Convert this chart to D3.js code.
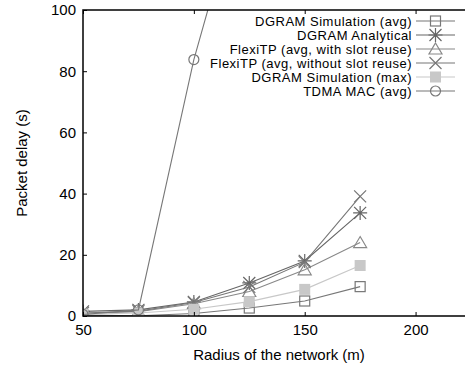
<!DOCTYPE html>
<html>
<head>
<meta charset="utf-8">
<script src="https://cdn.jsdelivr.net/npm/d3@7"></script>
<style>
  body { margin: 0; background: #fff; }
  text { font-family: "Liberation Sans", Arial, sans-serif; fill: #000; }
</style>
</head>
<body>
<div id="chart"></div>
<script>
(function () {
    var width = 465,
        height = 369;

    // values
    var radius = [50, 75, 100, 125, 150, 175];
    var dgramSimAvg = [0.3, 0.1, 0.8, 2.6, 4.9, 9.6];
    var dgramAnalytical = [1.5, 2.0, 4.6, 10.8, 18.0, 33.7];
    var flexiReuse = [0.8, 1.4, 4.0, 8.0, 15.1, 24.0];
    var flexiNoReuse = [1.0, 1.6, 4.4, 9.5, 17.6, 39.1];
    var dgramSimMax = [0.6, 1.0, 2.2, 4.7, 8.7, 16.5];
    var tdmaRadius = [50, 75, 100, 125];
    var tdmaAvg = [0.5, 2.0, 83.8, 148];

    var xTicks = [50, 100, 150, 200];
    var yTicks = [0, 20, 40, 60, 80, 100];

    var series = [
        {name: "DGRAM Simulation (avg)", xs: radius, ys: dgramSimAvg, marker: "square", color: "#777"},
        {name: "DGRAM Analytical", xs: radius, ys: dgramAnalytical, marker: "star", color: "#666"},
        {name: "FlexiTP (avg, with slot reuse)", xs: radius, ys: flexiReuse, marker: "triangle", color: "#888"},
        {name: "FlexiTP (avg, without slot reuse)", xs: radius, ys: flexiNoReuse, marker: "cross", color: "#777"},
        {name: "DGRAM Simulation (max)", xs: radius, ys: dgramSimMax, marker: "filled", color: "#c8c8c8"},
        {name: "TDMA MAC (avg)", xs: tdmaRadius, ys: tdmaAvg, marker: "circle", color: "#777"}
    ];

    var left = 83, top = 10, bottom = 316, right = 471;

    var x = d3.scaleLinear().domain([50, 225]).range([left, right]);
    var y = d3.scaleLinear().domain([0, 100]).range([bottom, top]);

    var svg = d3.select("#chart")
        .append("svg")
        .attr("width", width)
        .attr("height", height);

    svg.append("defs").append("clipPath").attr("id", "plot")
        .append("rect")
        .attr("x", left).attr("y", top)
        .attr("width", right - left).attr("height", bottom - top);

    // markers
    function drawMarker(g, type, color) {
        if (type === "square") {
            g.append("rect").attr("x", -5).attr("y", -5).attr("width", 10).attr("height", 10)
                .attr("fill", "none").attr("stroke", color).attr("stroke-width", 1.2);
        } else if (type === "filled") {
            g.append("rect").attr("x", -5.5).attr("y", -5.5).attr("width", 11).attr("height", 11)
                .attr("fill", color);
        } else if (type === "circle") {
            g.append("circle").attr("r", 5)
                .attr("fill", "none").attr("stroke", color).attr("stroke-width", 1.2);
        } else if (type === "triangle") {
            g.append("path").attr("d", "M0,-6L6.5,5L-6.5,5Z")
                .attr("fill", "none").attr("stroke", color).attr("stroke-width", 1.2);
        } else if (type === "cross") {
            g.append("path").attr("d", "M-6,-6L6,6M-6,6L6,-6")
                .attr("stroke", color).attr("stroke-width", 1.2);
        } else if (type === "star") {
            g.append("path").attr("d", "M-6,-6L6,6M-6,6L6,-6M0,-7L0,7M-7,0L7,0")
                .attr("stroke", color).attr("stroke-width", 1.2);
        }
    }

    var line = d3.line()
        .x(function (d) { return x(d[0]); })
        .y(function (d) { return y(d[1]); });

    var plot = svg.append("g").attr("clip-path", "url(#plot)");

    series.forEach(function (s) {
        var pts = s.xs.map(function (v, i) { return [v, s.ys[i]]; });
        plot.append("path")
            .attr("d", line(pts))
            .attr("fill", "none")
            .attr("stroke", s.color)
            .attr("stroke-width", 1.1);
        pts.forEach(function (p) {
            var g = plot.append("g")
                .attr("transform", "translate(" + x(p[0]) + "," + y(p[1]) + ")");
            drawMarker(g, s.marker, s.color);
        });
    });

    // axes
    var xAxis = d3.axisBottom(x).tickValues(xTicks).tickSize(-4).tickPadding(8);
    var yAxis = d3.axisLeft(y).tickValues(yTicks).tickSize(-4).tickPadding(7);

    var gx = svg.append("g").attr("transform", "translate(0," + bottom + ")").call(xAxis);
    var gy = svg.append("g").attr("transform", "translate(" + left + ",0)").call(yAxis);
    [gx, gy].forEach(function (g) {
        g.select(".domain").remove();
        g.selectAll("line").attr("stroke", "#000");
        g.selectAll("text").style("font-size", "15px").attr("font-family", "Liberation Sans, Arial, sans-serif");
    });

    // mirrored ticks on the top border
    svg.append("g").attr("transform", "translate(0," + top + ")")
        .call(d3.axisTop(x).tickValues(xTicks).tickSize(-4).tickFormat(""))
        .call(function (g) { g.select(".domain").remove(); g.selectAll("line").attr("stroke", "#000"); });

    // frame
    svg.append("path")
        .attr("d", "M" + right + "," + top + "H" + left + "V" + bottom + "H" + right)
        .attr("fill", "none")
        .attr("stroke", "#000")
        .attr("stroke-width", 1.5);

    // axis titles
    svg.append("text")
        .attr("x", 279).attr("y", 360)
        .attr("text-anchor", "middle")
        .style("font-size", "15px")
        .text("Radius of the network (m)");

    svg.append("text")
        .attr("transform", "translate(27,163) rotate(-90)")
        .attr("text-anchor", "middle")
        .style("font-size", "15px")
        .text("Packet delay (s)");

    // legend
    var legend = svg.append("g");
    series.forEach(function (s, i) {
        var ly = 21 + i * 14;
        var g = legend.append("g").attr("transform", "translate(0," + ly + ")");
        g.append("text")
            .attr("x", 412).attr("y", 4.5)
            .attr("text-anchor", "end")
            .style("font-size", "13px")
            .style("letter-spacing", "0.5px")
            .text(s.name);
        g.append("line")
            .attr("x1", 416).attr("x2", 455)
            .attr("stroke", s.color).attr("stroke-width", 1.1);
        var m = g.append("g").attr("transform", "translate(435.5,0)");
        drawMarker(m, s.marker, s.color);
    });
})();
</script>
</body>
</html>
